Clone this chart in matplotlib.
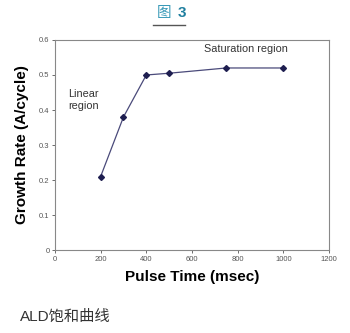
import matplotlib.pyplot as plt
from matplotlib.lines import Line2D

plt.rcParams['font.family'] = ['Liberation Sans', 'Noto Sans CJK SC', 'DejaVu Sans']

pulse_time = [200, 300, 400, 500, 750, 1000]
growth_rate = [0.21, 0.38, 0.50, 0.505, 0.52, 0.52]
xticks = [0, 200, 400, 600, 800, 1000, 1200]
yticks = [0, 0.1, 0.2, 0.3, 0.4, 0.5, 0.6]

fig = plt.figure(figsize=(3.5, 3.33), dpi=100)
ax = fig.add_axes([0.157, 0.249, 0.783, 0.631])

ax.plot(pulse_time, growth_rate, color='#4a4a7a', lw=0.9,
        marker='D', ms=3, mfc='#1e1e50', mec='#1e1e50')
ax.set_xlim(0, 1200)
ax.set_ylim(0, 0.6)
ax.set_xticks(xticks)
ax.set_yticks(yticks)
ax.set_xticklabels([str(t) for t in xticks])
ax.set_yticklabels(['0'] + ['%.1f' % t for t in yticks[1:]])
ax.tick_params(labelsize=5.5, colors='#555555', length=2, width=0.6, pad=2)
for s in ax.spines.values():
    s.set_color('#888888')
    s.set_linewidth(0.8)

ax.set_xlabel('Pulse Time (msec)', fontsize=11, fontweight='bold', labelpad=5)
ax.set_ylabel('Growth Rate (A/cycle)', fontsize=11, fontweight='bold', labelpad=7)

ax.text(57, 0.46, 'Linear\nregion', fontsize=7.8, color='#333333',
        va='top', linespacing=1.3)
ax.text(652, 0.575, 'Saturation region', fontsize=7.8, color='#333333', va='center')

fig.text(0.448, 0.96, '图', fontsize=10.5, color='#3a9ab8', ha='left', va='center')
fig.text(0.508, 0.962, '3', fontsize=11, color='#1f7f9f', ha='left', va='center',
         fontweight='bold')
fig.add_artist(Line2D([0.437, 0.529], [0.925, 0.925], color='#555555', lw=1))
fig.text(0.057, 0.05, 'ALD饱和曲线', fontsize=11, color='#333333', va='center')

fig.savefig('out.png', dpi=100, facecolor='white')
